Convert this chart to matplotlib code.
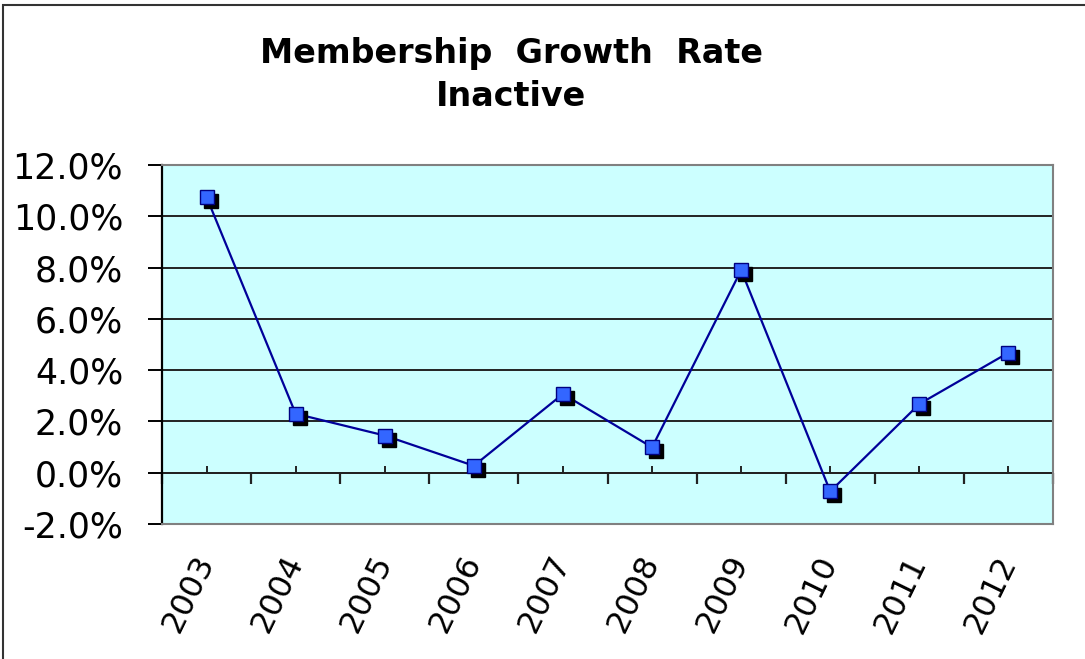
import matplotlib
matplotlib.use("Agg")
import matplotlib.pyplot as plt
import matplotlib.transforms as mtransforms
from matplotlib.patches import Rectangle

# Data
years = ["2003", "2004", "2005", "2006", "2007", "2008", "2009", "2010", "2011", "2012"]
growth_pct = [10.75, 2.30, 1.45, 0.27, 3.07, 0.99, 7.90, -0.73, 2.68, 4.68]
y_ticks = [-2, 0, 2, 4, 6, 8, 10, 12]
y_tick_labels = ["-2.0%", "0.0%", "2.0%", "4.0%", "6.0%", "8.0%", "10.0%", "12.0%"]
title_line1 = "Membership  Growth  Rate"
title_line2 = "Inactive"

W, H = 1085, 659
fig = plt.figure(figsize=(W / 100, H / 100), dpi=100)
fig.patch.set_facecolor("white")

# outer chart frame
fig.patches.append(Rectangle((3 / W, -0.1), 1.2, 1.1 - 5 / H, transform=fig.transFigure,
                             fill=False, edgecolor="#333333", linewidth=1.5))

ax = fig.add_axes([162 / W, 1 - 524 / H, (1053 - 162) / W, (524 - 165) / H])
ax.set_facecolor("#CCFFFF")

x = list(range(len(years)))
ax.set_xlim(-0.5, len(years) - 0.5)
ax.set_ylim(-2, 12)

# horizontal gridlines
for v in y_ticks[1:-1]:
    ax.axhline(v, color="#222222", linewidth=1.4, zorder=1)

# series line, marker shadows, markers
ax.plot(x, growth_pct, color="#000099", linewidth=1.6, zorder=3)
shadow = ax.transData + mtransforms.ScaledTranslation(4 / 100, -4 / 100, fig.dpi_scale_trans)
ax.plot(x, growth_pct, linestyle="none", marker="s", markersize=10,
        markerfacecolor="black", markeredgecolor="black", transform=shadow, zorder=4)
ax.plot(x, growth_pct, linestyle="none", marker="s", markersize=10,
        markerfacecolor="#3366FF", markeredgecolor="#000080", markeredgewidth=1.0, zorder=5)

# y axis
ax.set_yticks(y_ticks)
ax.set_yticklabels(y_tick_labels, fontsize=25)
ax.tick_params(axis="y", direction="out", length=10, width=1.4, color="black", pad=18)

# category labels along the bottom
ax.set_xticks(x)
ax.set_xticklabels(years, fontsize=23, rotation=64, ha="right", va="center",
                   rotation_mode="anchor")
ax.tick_params(axis="x", length=0, pad=24)

for side in ("top", "right", "bottom"):
    ax.spines[side].set_color("#808080")
    ax.spines[side].set_linewidth(1.5)
ax.spines["left"].set_color("black")
ax.spines["left"].set_linewidth(1.6)

# category axis crossing at zero
zero_ax = ax.secondary_xaxis(2 / 14)
zero_ax.spines["bottom"].set_color("#222222")
zero_ax.spines["bottom"].set_linewidth(1.4)
boundaries = [i - 0.5 for i in range(len(years) + 1)]
zero_ax.set_xticks(boundaries)
zero_ax.set_xticklabels([""] * len(boundaries))
zero_ax.set_xticks(x, minor=True)
zero_ax.tick_params(axis="x", which="major", direction="out", length=8, width=1.6, color="#222222")
zero_ax.tick_params(axis="x", which="minor", direction="in", length=5, width=1.4, color="#222222")

# title
fig.text(511 / W, 1 - 63 / H, title_line1, ha="center", va="baseline",
         fontsize=24, fontweight="bold")
fig.text(511 / W, 1 - 106 / H, title_line2, ha="center", va="baseline",
         fontsize=24, fontweight="bold")

fig.savefig("out.png", dpi=100, facecolor="white")
